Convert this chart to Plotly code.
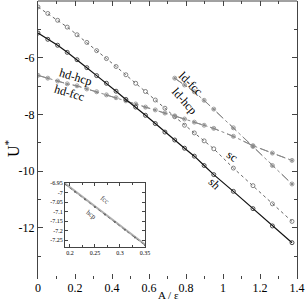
import plotly.graph_objects as go

# ---------------- data ----------------
x_main = [0, 0.053, 0.106, 0.158, 0.211, 0.264, 0.317, 0.370, 0.422, 0.475, 0.528,
          0.581, 0.634, 0.686, 0.739, 0.792, 0.845, 0.898, 0.950, 1.056, 1.162, 1.267, 1.373]

sh = [-5.13, -5.35, -5.56, -5.81, -6.07, -6.35, -6.63, -6.90, -7.18, -7.47, -7.74,
      -8.03, -8.32, -8.62, -8.90, -9.19, -9.47, -9.80, -10.12, -10.71, -11.32, -11.93, -12.52]

sc = [-4.21, -4.44, -4.68, -4.92, -5.19, -5.46, -5.75, -6.03, -6.31, -6.60, -6.90,
      -7.19, -7.49, -7.78, -8.08, -8.38, -8.65, -8.93, -9.21, -9.89, -10.51, -11.15, -11.77]

hd_fcc = [-6.620, -6.720, -6.820, -6.920, -6.990, -7.100, -7.200, -7.310, -7.410, -7.520, -7.630,
          -7.740, -7.840, -7.950, -8.050, -8.160, -8.270, -8.380, -8.490, -8.770, -9.100, -9.360, -9.620]
hd_hcp = [-6.624, -6.724, -6.824, -6.924, -6.994, -7.104, -7.204, -7.314, -7.414, -7.524, -7.634,
          -7.744, -7.844, -7.954, -8.054, -8.164, -8.274, -8.384, -8.494, -8.774, -9.104, -9.364, -9.624]

x_ld = [0.739, 0.792, 0.845, 0.898, 0.950, 1.056, 1.162, 1.267, 1.373]
ld_fcc = [-6.72, -6.96, -7.20, -7.50, -7.81, -8.47, -9.13, -9.80, -10.45]
ld_hcp = [-6.725, -6.965, -7.205, -7.505, -7.815, -8.475, -9.135, -9.805, -10.455]

# inset
x_in = [0.19, 0.21, 0.23, 0.25, 0.27, 0.29, 0.31, 0.33, 0.35]
fcc_in = [-6.950, -6.990, -7.030, -7.070, -7.110, -7.150, -7.190, -7.231, -7.272]
hcp_in = [-6.954, -6.994, -7.034, -7.074, -7.114, -7.154, -7.194, -7.235, -7.276]

x_ticks = [0, 0.2, 0.4, 0.6, 0.8, 1.0, 1.2, 1.4]
x_ticktext = ["0", "0.2", "0.4", "0.6", "0.8", "1", "1.2", "1.4"]
y_ticks = [-12, -10, -8, -6]
y_ticktext = ["-12", "-10", "-8", "-6"]
xin_ticks = [0.2, 0.25, 0.3, 0.35]
xin_ticktext = ["0.2", "0.25", "0.3", "0.35"]
yin_ticks = [-7.25, -7.2, -7.15, -7.1, -7.05, -7.0, -6.95]
yin_ticktext = ["-7.25", "-7.2", "-7.15", "-7.1", "-7.05", "-7", "-6.95"]

FONT = "Liberation Serif"
GRAY = "#8a8a8a"

fig = go.Figure()

fig.add_trace(go.Scatter(x=x_main, y=sc, mode="lines+markers",
                         line=dict(color="#666666", width=1, dash="dot"),
                         marker=dict(symbol="circle-open", size=4, color="#666666", line=dict(width=0.8))))
fig.add_trace(go.Scatter(x=x_main, y=hd_fcc, mode="lines+markers",
                         line=dict(color=GRAY, width=1, dash="dashdot"),
                         marker=dict(symbol="circle-open", size=4, color=GRAY, line=dict(width=0.8))))
fig.add_trace(go.Scatter(x=x_main, y=hd_hcp, mode="lines+markers",
                         line=dict(color=GRAY, width=1, dash="dash"),
                         marker=dict(symbol="circle", size=2.5, color=GRAY)))
fig.add_trace(go.Scatter(x=x_ld, y=ld_fcc, mode="lines+markers",
                         line=dict(color=GRAY, width=1, dash="dash"),
                         marker=dict(symbol="circle-open", size=4, color=GRAY, line=dict(width=0.8))))
fig.add_trace(go.Scatter(x=x_ld, y=ld_hcp, mode="lines+markers",
                         line=dict(color=GRAY, width=1, dash="dashdot"),
                         marker=dict(symbol="circle", size=2.5, color=GRAY)))
fig.add_trace(go.Scatter(x=x_main, y=sh, mode="lines+markers",
                         line=dict(color="#111111", width=1.2),
                         marker=dict(symbol="circle-open", size=4, color="#222222", line=dict(width=0.8))))

# inset traces
fig.add_trace(go.Scatter(x=x_in, y=fcc_in, xaxis="x2", yaxis="y2", mode="lines",
                         line=dict(color="#b0b0b0", width=2)))
fig.add_trace(go.Scatter(x=x_in, y=hcp_in, xaxis="x2", yaxis="y2", mode="lines+markers",
                         line=dict(color="#777777", width=1, dash="dot"),
                         marker=dict(symbol="circle", size=2, color="#666666")))

fig.update_layout(
    width=306, height=300,
    margin=dict(l=38, r=9, t=1, b=21),
    paper_bgcolor="white", plot_bgcolor="white",
    showlegend=False,
    font=dict(family=FONT, size=12, color="black"),
    xaxis=dict(range=[0, 1.4], tickmode="array", tickvals=x_ticks, ticktext=x_ticktext,
               anchor="y", side="bottom", automargin=False,
               ticks="inside", ticklen=5, tickcolor="#444", showline=False, mirror="ticks",
               showgrid=False, zeroline=False, tickfont=dict(size=12, family=FONT),
               minor=dict(tickmode="array", tickvals=[0.1, 0.3, 0.5, 0.7, 0.9, 1.1, 1.3],
                          ticks="inside", ticklen=3, tickcolor="#444")),
    yaxis=dict(range=[-13.8, -4], tickmode="array", tickvals=y_ticks, ticktext=y_ticktext,
               automargin=False,
               ticks="inside", ticklen=5, tickcolor="#444", showline=True, linecolor="#444",
               linewidth=1, mirror="ticks", showgrid=False, zeroline=False,
               tickfont=dict(size=12, family=FONT),
               minor=dict(tickmode="array", tickvals=[-13, -11, -9, -7, -5],
                          ticks="inside", ticklen=3, tickcolor="#444")),
    xaxis2=dict(domain=[0.104, 0.413], anchor="y2", range=[0.19, 0.35], tickmode="array",
                automargin=False,
                tickvals=xin_ticks, ticktext=xin_ticktext, ticks="inside", ticklen=3,
                showline=True, linecolor="#444", linewidth=1, mirror="ticks",
                showgrid=False, zeroline=False, tickfont=dict(size=6, family=FONT),
                minor=dict(tickmode="array", tickvals=[0.225, 0.275, 0.325],
                           ticks="inside", ticklen=2)),
    yaxis2=dict(domain=[0.116, 0.344], anchor="x2", range=[-7.284, -6.95], tickmode="array",
                automargin=False,
                tickvals=yin_ticks, ticktext=yin_ticktext, ticks="inside", ticklen=3,
                showline=True, linecolor="#444", linewidth=1, mirror="ticks",
                showgrid=False, zeroline=False, tickfont=dict(size=6, family=FONT)),
    shapes=[dict(type="line", xref="paper", yref="paper", x0=0, x1=1, y0=1, y1=1,
                 line=dict(color="#444", width=1))],
)

ann = [
    dict(text="hd-hcp", x=0.204, y=-6.68, textangle=17),
    dict(text="hd-fcc", x=0.172, y=-7.24, textangle=17),
    dict(text="ld-fcc", x=0.829, y=-6.91, textangle=45),
    dict(text="ld-hcp", x=0.791, y=-7.53, textangle=48),
    dict(text="sc", x=1.048, y=-9.48, textangle=35),
    dict(text="sh", x=0.956, y=-10.45, textangle=45),
]
for a in ann:
    fig.add_annotation(text=a["text"], x=a["x"], y=a["y"], xref="x", yref="y",
                       textangle=a["textangle"], showarrow=False,
                       font=dict(family=FONT, size=12, color="black"))

fig.add_annotation(text="fcc", x=0.263, y=-7.055, xref="x2", yref="y2", textangle=38,
                   xshift=3, yshift=3,
                   showarrow=False, font=dict(family=FONT, size=7, color="#333"))
fig.add_annotation(text="hcp", x=0.249, y=-7.10, xref="x2", yref="y2", textangle=38,
                   xshift=-3, yshift=-3,
                   showarrow=False, font=dict(family=FONT, size=7, color="#333"))

fig.add_annotation(text="U<sup>*</sup>", x=(12 - 38) / 259, y=(279 - 148) / 278,
                   xref="paper", yref="paper", xanchor="center", yanchor="middle",
                   showarrow=False, textangle=-90, font=dict(family=FONT, size=16))
fig.add_annotation(text="A / ε", x=(168 - 38) / 259, y=(279 - 295) / 278,
                   xref="paper", yref="paper", xanchor="center", yanchor="middle",
                   showarrow=False, font=dict(family=FONT, size=11))

fig.write_html("out.html", config={"displayModeBar": False},
               post_script="document.body.style.margin='0';")
